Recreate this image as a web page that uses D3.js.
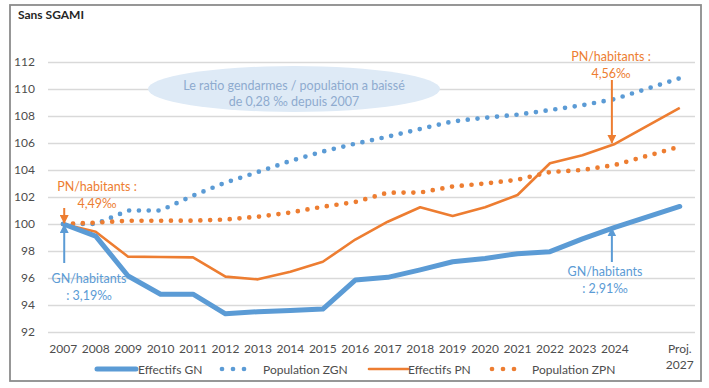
<!DOCTYPE html>
<html>
<head>
<meta charset="utf-8">
<script src="https://cdn.jsdelivr.net/npm/d3@7"></script>
<style>
  html, body { margin: 0; padding: 0; background: #ffffff; }
  svg { display: block; font-family: Lato, "Open Sans", sans-serif; }
</style>
</head>
<body>
<svg id="chart" width="709" height="388"></svg>
<script>
// ---- data ----
const categories = ["2007","2008","2009","2010","2011","2012","2013","2014","2015","2016",
  "2017","2018","2019","2020","2021","2022","2023","2024","","Proj. 2027"];
const effectifsGN   = [100, 99.1, 96.15, 94.8, 94.8, 93.35, 93.5, 93.6, 93.7, 95.85,
  96.05, 96.6, 97.2, 97.45, 97.8, 97.95, 98.9, 99.75, null, 101.3];
const populationZGN = [100, 100, 101, 101, 102.1, 103.07, 103.85, 104.67, 105.37, 105.95,
  106.47, 107.04, 107.6, 107.87, 108.1, 108.44, 108.8, 109.26, null, 110.8];
const effectifsPN   = [100, 99.43, 97.58, 97.55, 97.53, 96.1, 95.9, 96.47, 97.2, 98.85,
  100.17, 101.24, 100.6, 101.24, 102.15, 104.5, 105.1, 105.93, null, 108.6];
const populationZPN = [100, 100.1, 100.24, 100.24, 100.25, 100.33, 100.54, 100.85, 101.28, 101.63,
  102.32, 102.33, 102.78, 103.0, 103.28, 103.85, 104.0, 104.37, null, 105.73];
const yTicks = [92, 94, 96, 98, 100, 102, 104, 106, 108, 110, 112];
const seriesNames = ["Effectifs GN", "Population ZGN", "Effectifs PN", "Population ZPN"];

// ---- styles ----
const BLUE = "#5b9bd5", ORANGE = "#ed7d31";
const styles = [
  {color: BLUE,   width: 5,   dots: false},
  {color: BLUE,   width: 4.7, dots: true},
  {color: ORANGE, width: 2.6, dots: false},
  {color: ORANGE, width: 4.7, dots: true}
];
const seriesValues = [effectifsGN, populationZGN, effectifsPN, populationZPN];

const svg = d3.select("#chart");

// frame
svg.append("rect").attr("x", 10).attr("y", 5).attr("width", 691).attr("height", 376)
  .attr("fill", "#fff").attr("stroke", "#8c8c8c").attr("stroke-width", 1.8);

svg.append("text").attr("x", 18).attr("y", 19).text("Sans SGAMI")
  .attr("font-size", 12).attr("font-weight", "bold").attr("fill", "#262626");

// scales
const x = d3.scaleBand().domain(categories).range([47, 696]).padding(0);
const y = d3.scaleLinear().domain([92, 112]).range([332, 62]);
const cx = c => x(c) + x.bandwidth() / 2;

// y axis + grid
const yAxis = svg.append("g").attr("transform", "translate(48,0)")
  .call(d3.axisLeft(y).tickValues(yTicks).tickSize(-647).tickPadding(13));
yAxis.select(".domain").remove();
yAxis.selectAll(".tick line").attr("stroke", "#d9d9d9").attr("stroke-width", 1.3);
yAxis.selectAll(".tick text").attr("font-size", 12).attr("fill", "#4d4d4d")
  .attr("font-family", "Lato, sans-serif");

// x axis
const xAxis = svg.append("g").attr("transform", "translate(0,332)")
  .call(d3.axisBottom(x).tickSize(0).tickPadding(0));
xAxis.select(".domain").remove();
xAxis.selectAll(".tick text").each(function(d) {
  const t = d3.select(this).text(null).attr("font-size", 12).attr("fill", "#4d4d4d")
    .attr("font-family", "Lato, sans-serif").attr("dy", null).attr("y", 21);
  const parts = d.split(" ");
  parts.forEach((p, i) => t.append("tspan").attr("x", 0).attr("y", 21 + i * 16).text(p));
});

// annotation ellipse (behind lines)
svg.append("ellipse").attr("cx", 294).attr("cy", 89).attr("rx", 146).attr("ry", 23)
  .attr("fill", "#deeaf6");
const noteColor = "#8eabcf";
svg.append("text").attr("x", 294).attr("y", 90).attr("text-anchor", "middle")
  .attr("font-size", 12.5).attr("fill", noteColor).text("Le ratio gendarmes / population a baissé");
svg.append("text").attr("x", 294).attr("y", 106).attr("text-anchor", "middle")
  .attr("font-size", 12.5).attr("fill", noteColor).text("de 0,28 ‰ depuis 2007");

// lines
const line = d3.line()
  .defined(d => d.v !== null)
  .x(d => cx(d.c)).y(d => y(d.v));

const drawOrder = [1, 3, 2, 0];
drawOrder.forEach(i => {
  const data = categories.map((c, k) => ({c, v: seriesValues[i][k]})).filter(d => d.v !== null);
  const s = styles[i];
  const p = svg.append("path").datum(data).attr("d", line)
    .attr("fill", "none").attr("stroke", s.color).attr("stroke-width", s.width)
    .attr("stroke-linejoin", "round");
  if (s.dots) p.attr("stroke-dasharray", "0 9.8").attr("stroke-linecap", "round");
  else p.attr("stroke-linecap", i === 0 ? "round" : "butt");
});

// arrows
const defs = svg.append("defs");
function marker(id, color) {
  defs.append("marker").attr("id", id).attr("viewBox", "0 0 10 10").attr("refX", 9).attr("refY", 5)
    .attr("markerWidth", 4.5).attr("markerHeight", 4.5).attr("orient", "auto")
    .append("path").attr("d", "M0,0 L10,5 L0,10 z").attr("fill", color);
}
marker("arrO", ORANGE); marker("arrB", BLUE);
function arrow(x0, y0, x1, y1, color, id) {
  svg.append("line").attr("x1", x0).attr("y1", y0).attr("x2", x1).attr("y2", y1)
    .attr("stroke", color).attr("stroke-width", 2).attr("marker-end", `url(#${id})`);
}
const x07 = cx("2007"), x24 = cx("2024");
arrow(x07 + 1, 208, x07 + 1, y(100) - 1, ORANGE, "arrO");
arrow(x07 + 1, 263, x07 + 1, y(100) + 1, BLUE, "arrB");
arrow(x24 - 3, 80, x24 - 3, y(effectifsPN[17]) - 1, ORANGE, "arrO");
arrow(x24 - 3, 262, x24 - 3, y(effectifsGN[17]) + 1, BLUE, "arrB");

function label(xp, yp, lines, color) {
  lines.forEach((l, i) => svg.append("text").attr("x", xp).attr("y", yp + i * 16.5)
    .attr("text-anchor", "middle").attr("font-size", 12.5).attr("fill", color).text(l));
}
label(97, 191, ["PN/habitants :", "4,49‰"], ORANGE);
label(89, 283, ["GN/habitants", ": 3,19‰"], BLUE);
label(611, 61, ["PN/habitants :", "4,56‰"], ORANGE);
label(605, 276, ["GN/habitants", ": 2,91‰"], BLUE);

// legend
const legendX = [95, 220, 367, 490];
const legendTextX = [138, 263, 408, 532];
const legendY = 369;
seriesNames.forEach((name, i) => {
  const s = styles[i];
  const g = svg.append("g");
  const l = g.append("line").attr("x1", legendX[i] + 2).attr("x2", legendX[i] + (s.dots ? 35 : 41))
    .attr("y1", legendY).attr("y2", legendY).attr("stroke", s.color)
    .attr("stroke-width", i === 0 ? 5 : (s.dots ? 4.7 : 2.6));
  if (s.dots) l.attr("stroke-dasharray", "0 11").attr("stroke-linecap", "round");
  else l.attr("stroke-linecap", "round");
  g.append("text").attr("x", legendTextX[i]).attr("y", legendY + 4.5)
    .attr("font-size", 12).attr("fill", "#4d4d4d").text(name);
});
</script>
</body>
</html>
